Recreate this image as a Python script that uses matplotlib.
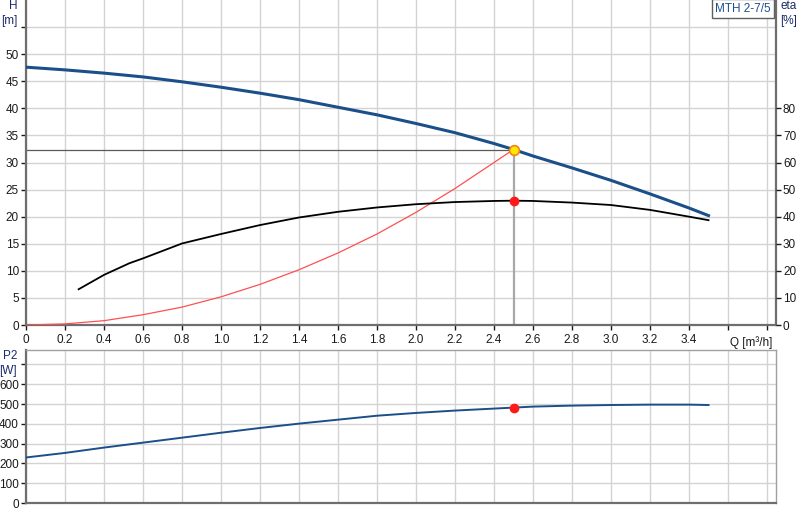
import numpy as np
import matplotlib
matplotlib.use('Agg')
import matplotlib.pyplot as plt

plt.rcParams['font.family'] = ['Liberation Sans', 'DejaVu Sans']
plt.rcParams['font.size'] = 8.5

# pump curve H(Q)
q_h = [0, 0.2, 0.4, 0.6, 0.8, 1.0, 1.2, 1.4, 1.6, 1.8, 2.0, 2.2, 2.4, 2.5,
       2.6, 2.8, 3.0, 3.2, 3.4, 3.5]
h = [47.6, 47.1, 46.5, 45.8, 44.9, 43.9, 42.8, 41.6, 40.2, 38.8, 37.2, 35.5,
     33.5, 32.4, 31.2, 29.0, 26.7, 24.2, 21.6, 20.2]

# system curve
q_sys = [0, 0.2, 0.4, 0.6, 0.8, 1.0, 1.2, 1.4, 1.6, 1.8, 2.0, 2.2, 2.4, 2.5]
h_sys = [0, 0.2, 0.8, 1.9, 3.3, 5.2, 7.5, 10.2, 13.3, 16.8, 20.8, 25.2, 30.0, 32.4]

# efficiency
q_eta = [0.27, 0.4, 0.53, 0.6, 0.8, 1.0, 1.2, 1.4, 1.6, 1.8, 2.0, 2.2, 2.4, 2.5,
         2.6, 2.8, 3.0, 3.2, 3.4, 3.5]
eta = [13.2, 18.5, 22.8, 24.6, 30.1, 33.6, 36.9, 39.7, 41.8, 43.4, 44.6, 45.4,
       45.8, 45.9, 45.8, 45.2, 44.3, 42.5, 40.0, 38.7]

# power P2
q_p = [0, 0.2, 0.4, 0.6, 0.8, 1.0, 1.2, 1.4, 1.6, 1.8, 2.0, 2.2, 2.4, 2.5,
       2.6, 2.8, 3.0, 3.2, 3.4, 3.5]
p2 = [230, 253, 280, 305, 330, 355, 379, 401, 421, 441, 455, 467, 477, 482,
      487, 492, 495, 497, 497, 495]

# duty point
q_op, h_op, eta_op, p_op = 2.5, 32.4, 45.9, 482

x_ticks = np.round(np.arange(0, 3.81, 0.2), 1)
x_labels = ['0'] + ['%.1f' % v for v in x_ticks[1:18]] + ['', '']

blue = '#1b4f8a'
grid_c = '#d3d3d3'
spine_c = '#6e6e6e'
txt = '#1a1a1a'

fig = plt.figure(figsize=(8, 5.2), dpi=100)
ax = fig.add_axes([26 / 800, 195 / 520, 750 / 800, 325 / 520])
ax2 = ax.twinx()
axp = fig.add_axes([26 / 800, 17 / 520, 750 / 800, 153 / 520])

for a in (ax, axp):
    a.set_xlim(0, 3.846)
    a.set_xticks(x_ticks)
    a.grid(True, color=grid_c, linewidth=1.0)
    a.set_axisbelow(True)
    for s in a.spines.values():
        s.set_color('#a0a0a0')
        s.set_linewidth(1.0)
    a.spines['left'].set_color(spine_c)
    a.spines['left'].set_linewidth(1.6)
    a.spines['bottom'].set_color(spine_c)
    a.spines['bottom'].set_linewidth(1.6)
    a.tick_params(colors=txt, labelsize=8.5, length=3.5, width=1, pad=1.5,
                  direction='out')

ax.set_ylim(0, 60)
ax.set_yticks(np.arange(0, 56, 5))
ax.set_yticklabels([str(v) for v in range(0, 51, 5)] + [''])
ax.set_xticklabels(x_labels)
ax.tick_params(axis='x', pad=3)
ax.spines['top'].set_visible(False)
ax.spines['right'].set_color(spine_c)
ax.spines['right'].set_linewidth(1.6)

ax2.set_ylim(0, 120)
ax2.set_yticks(np.arange(0, 81, 10))
ax2.tick_params(colors=txt, labelsize=8.5, length=3.5, width=1, pad=1.5)
for s in ax2.spines.values():
    s.set_visible(False)

# operating point guide lines
ax.plot([0, q_op], [h_op, h_op], color='#5a5a5a', linewidth=0.9, zorder=2)
ax.plot([q_op, q_op], [0, h_op], color='#a8a8a8', linewidth=1.6, zorder=2)

ax.plot(q_sys, h_sys, color='#ff5050', linewidth=0.9, zorder=3)
ax.plot(q_h, h, color=blue, linewidth=2.2, zorder=4)
ax2.plot(q_eta, eta, color='#000000', linewidth=1.3, zorder=4)
ax2.plot([q_op], [eta_op], 'o', color='#ff1a1a', markersize=6, zorder=5)
ax.plot([q_op], [h_op], 'o', markerfacecolor='#ffe800',
        markeredgecolor='#f08020', markersize=7, markeredgewidth=1.2, zorder=6)

ax.text(-0.012, 1.0, 'H\n[m]', transform=ax.transAxes, ha='right', va='top',
        fontsize=8.5, color='#1a2a6a', linespacing=1.3)
ax.text(1.006, 1.0, 'eta\n[%]', transform=ax.transAxes, ha='left', va='top',
        fontsize=8.5, color='#1a2a6a', linespacing=1.3)
ax.text(3.72, -2.0, 'Q [m³/h]', ha='center', va='top', fontsize=8.5,
        color=txt)
ax.text(0.993, 0.992, 'MTH 2-7/5', transform=ax.transAxes, ha='right',
        va='top', fontsize=8.5, color='#1f4f8f',
        bbox=dict(boxstyle='square,pad=0.3', facecolor='white',
                  edgecolor='#606060', linewidth=1.0))

axp.set_ylim(0, 773)
axp.set_yticks(np.arange(0, 701, 100))
axp.set_yticklabels([str(v) for v in range(0, 601, 100)] + [''])
axp.tick_params(axis='x', length=0, labelbottom=False)
axp.plot(q_p, p2, color=blue, linewidth=1.4, zorder=4)
axp.plot([q_op], [p_op], 'o', color='#ff1a1a', markersize=6, zorder=5)
axp.text(-0.012, 1.0, 'P2\n[W]', transform=axp.transAxes, ha='right',
         va='top', fontsize=8.5, color='#1a2a6a', linespacing=1.3)

fig.savefig('out.png', dpi=100)
